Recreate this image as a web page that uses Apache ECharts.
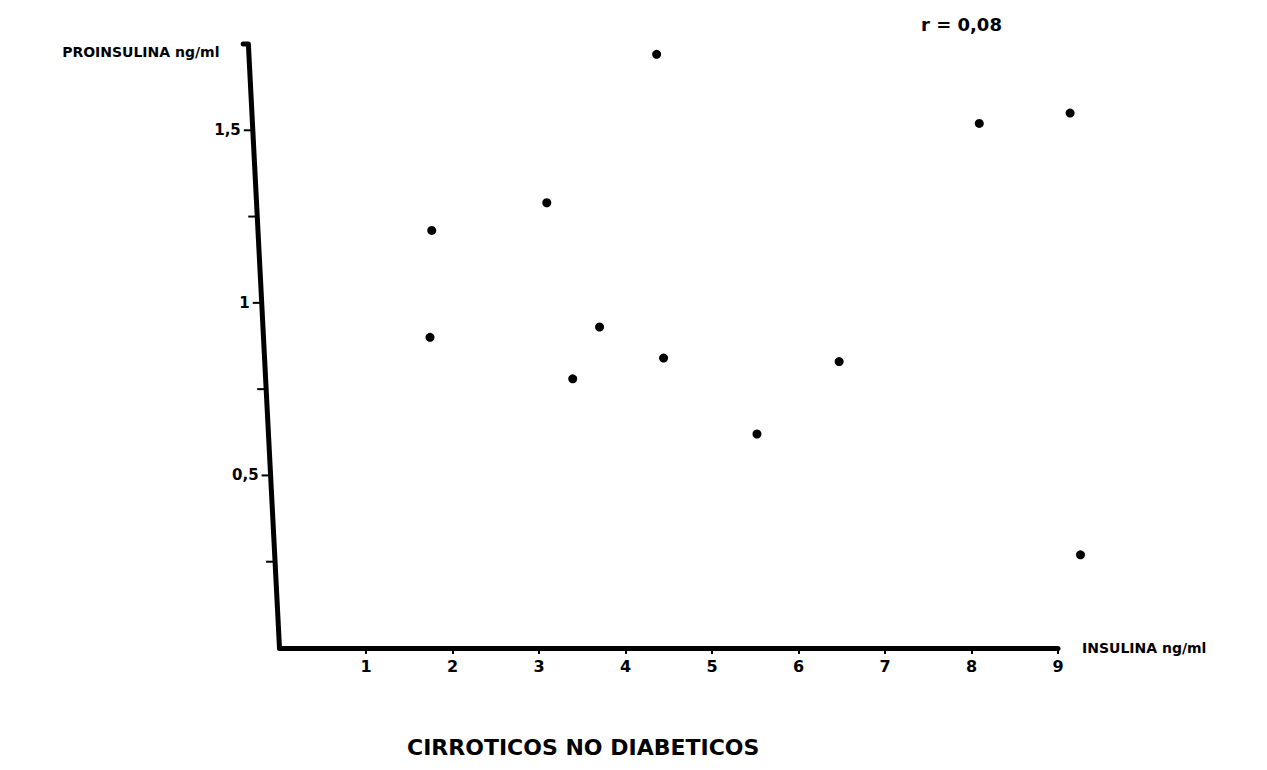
<!DOCTYPE html>
<html>
<head>
<meta charset="utf-8">
<script src="https://cdn.jsdelivr.net/npm/echarts@6/dist/echarts.min.js"></script>
<style>
  html, body { margin: 0; padding: 0; background: #fff; }
  #chart { width: 1267px; height: 770px; }
</style>
</head>
<body>
<div id="chart"></div>
<script>
// Insulin vs proinsulin, non-diabetic cirrhotic patients (ng/ml)
const insulina    = [1.76, 1.74, 3.09, 3.39, 3.70, 4.36, 4.44, 5.52, 6.47, 8.09, 9.14, 9.26];
const proinsulina = [1.21, 0.90, 1.29, 0.78, 0.93, 1.72, 0.84, 0.62, 0.83, 1.52, 1.55, 0.27];

// Axis ticks and labels
const xTickValues = [1, 2, 3, 4, 5, 6, 7, 8, 9];
const yTickValues = [0.25, 0.5, 0.75, 1, 1.25, 1.5];
const yLabelValues = [0.5, 1, 1.5];
const yLabelTexts = ['0,5', '1', '1,5'];

const titleText = 'CIRROTICOS NO DIABETICOS';
const corrText = 'r = 0,08';
const xName = 'INSULINA ng/ml';
const yName = 'PROINSULINA ng/ml';

const FONT = 'DejaVu Sans';
const W = 1267;
const GRID = { left: 279.5, right: 209, top: 44, bottom: 122 };
const X_MIN = 0, X_MAX = 9, Y_MIN = 0, Y_MAX = 1.75;

// The hand-drawn vertical axis leans left toward its top end
const SLANT_TOP_X = -0.36;
const HOOK_X = -0.42;
const slantX = v => SLANT_TOP_X * (v - Y_MIN) / (Y_MAX - Y_MIN);
const pxPerX = (W - GRID.left - GRID.right) / (X_MAX - X_MIN);

// Per-label rich styles so each y label follows the leaning axis
const yRich = {};
yLabelValues.forEach((v, i) => {
  yRich['l' + i] = {
    padding: [0, -slantX(v) * pxPerX, 0, 0],
    fontSize: 15, fontWeight: 'bold', fontFamily: FONT, color: '#000'
  };
});

const chart = echarts.init(document.getElementById('chart'), null, { renderer: 'svg' });

chart.setOption({
  backgroundColor: '#fff',
  animation: false,
  title: [
    {
      text: titleText, left: 402, top: 731,
      textStyle: { fontSize: 22, fontWeight: 'bold', fontFamily: FONT, color: '#000' }
    },
    {
      text: corrText, left: 916, top: 10,
      textStyle: { fontSize: 18, fontWeight: 'bold', fontFamily: FONT, color: '#000' }
    }
  ],
  grid: GRID,
  xAxis: {
    type: 'value', min: X_MIN, max: X_MAX, interval: 1,
    name: xName, nameLocation: 'end', nameGap: 24,
    nameTextStyle: { fontSize: 14, fontWeight: 'bold', fontFamily: FONT, color: '#000' },
    axisLine: { show: true, onZero: false, lineStyle: { color: '#000', width: 5, cap: 'round' } },
    axisTick: { show: true, customValues: xTickValues, length: 6, lineStyle: { color: '#000', width: 2 } },
    axisLabel: {
      customValues: xTickValues, margin: 10,
      fontSize: 16, fontWeight: 'bold', fontFamily: FONT, color: '#000'
    },
    splitLine: { show: false }
  },
  yAxis: {
    type: 'value', min: Y_MIN, max: Y_MAX, interval: 0.25,
    name: yName, nameLocation: 'end', nameGap: -15,
    nameTextStyle: {
      align: 'right', padding: [0, 60, 0, 0],
      fontSize: 14, fontWeight: 'bold', fontFamily: FONT, color: '#000'
    },
    axisLine: { show: false },
    axisTick: { show: false },
    splitLine: { show: false },
    axisLabel: {
      margin: 12,
      formatter: val => {
        const i = yLabelValues.findIndex(v => Math.abs(v - val) < 1e-9);
        return i < 0 ? '' : '{l' + i + '|' + yLabelTexts[i] + '}';
      },
      rich: yRich
    }
  },
  series: [
    {
      // leaning vertical axis line with its small top hook
      type: 'custom', silent: true, clip: false, z: 5,
      data: [[Y_MIN, Y_MAX]],
      renderItem: (params, api) => {
        const yLo = api.value(0), yHi = api.value(1);
        const pts = [
          api.coord([HOOK_X, yHi]),
          api.coord([slantX(yHi), yHi]),
          api.coord([slantX(yLo), yLo])
        ];
        return {
          type: 'polyline',
          shape: { points: pts },
          style: { stroke: '#000', lineWidth: 5, fill: null, lineCap: 'round', lineJoin: 'round' }
        };
      }
    },
    {
      // tick marks on the leaning axis
      type: 'custom', silent: true, clip: false, z: 5,
      data: yTickValues.map(v => [slantX(v), v]),
      renderItem: (params, api) => {
        const p = api.coord([api.value(0), api.value(1)]);
        return {
          type: 'line',
          shape: { x1: p[0] - 9, y1: p[1], x2: p[0], y2: p[1] },
          style: { stroke: '#000', lineWidth: 2 }
        };
      }
    },
    {
      type: 'scatter', clip: false, z: 6,
      symbol: 'circle', symbolSize: 9,
      itemStyle: { color: '#000', opacity: 1 },
      data: insulina.map((x, i) => [x, proinsulina[i]])
    }
  ]
});
</script>
</body>
</html>
